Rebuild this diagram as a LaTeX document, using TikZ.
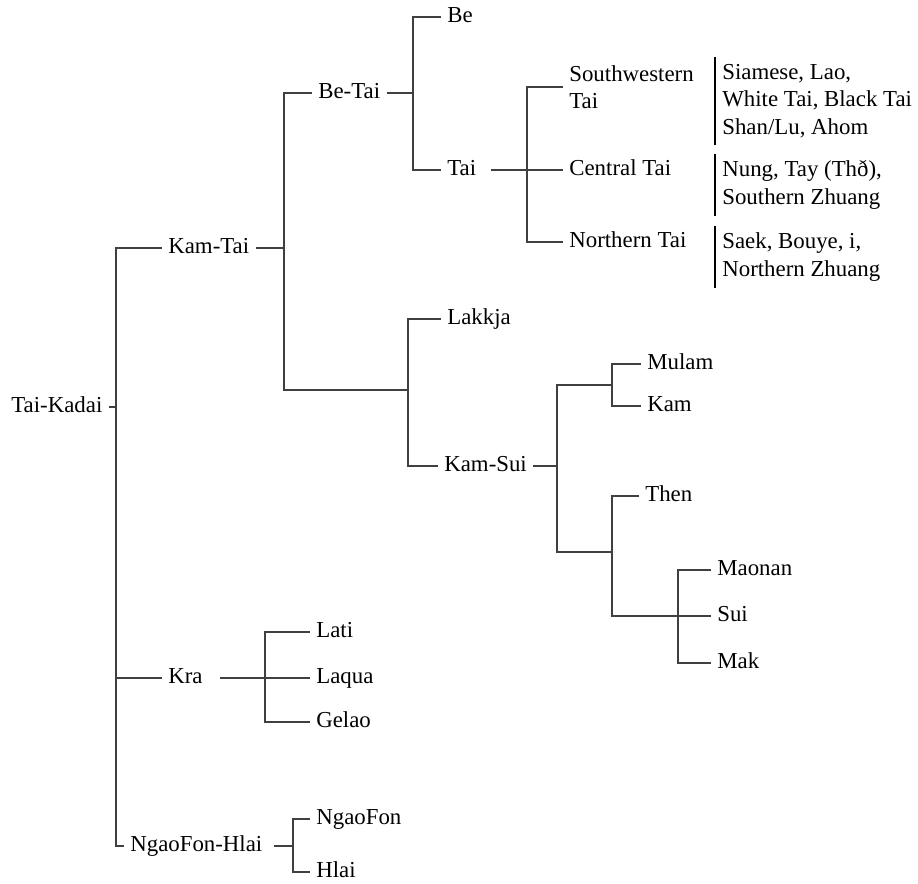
\documentclass[tikz,border=0pt]{standalone}
\usepackage{fontspec}
\setmainfont{Liberation Serif}
\usepackage{tikz}
\usetikzlibrary{positioning}

\begin{document}
\begin{tikzpicture}[x=.02cm,y=-.02cm,font=\fontsize{13pt}{15.5pt}\selectfont,
  lbl/.style={anchor=west,inner xsep=.12cm,inner ysep=0pt,text height=.66em,text depth=0pt},
  lbltwo/.style={anchor=west,align=left,inner xsep=.12cm},
  langs/.style={anchor=west,align=left,inner xsep=.14cm,inner ysep=.14cm},
  edge/.style={draw=black!75,line width=.6pt},
  bar/.style={draw=black,line width=1.2pt}]
\useasboundingbox (0,0) rectangle (918,883);
\node[lbl] (kadai) at (5,407) {Tai-Kadai};
\node[lbl] (kamtai) at (162,248) {Kam-Tai};
\node[lbl] (betai) at (312,93) {Be-Tai};
\node[lbl] (be) at (441,17) {Be};
\node[lbl] (tai) at (441,170) {Tai};
\node[lbltwo] (sw) at (563,87) {Southwestern\\Tai};
\node[lbl] (central) at (563,170) {Central Tai};
\node[lbl] (northern) at (563,242) {Northern Tai};
\node[langs] (swl) at (715,101) {Siamese, Lao,\\White Tai, Black Tai\\Shan/Lu, Ahom};
\node[langs] (cenl) at (715,185) {Nung, Tay (Thð),\\Southern Zhuang};
\node[langs] (norl) at (715,257) {Saek, Bouye, i,\\Northern Zhuang};
\node[lbl] (lakkja) at (441,319) {Lakkja};
\node[lbl] (kamsui) at (438,466) {Kam-Sui};
\node[lbl] (mulam) at (641,364) {Mulam};
\node[lbl] (kam) at (641,406) {Kam};
\node[lbl] (then) at (639,496) {Then};
\node[lbl] (maonan) at (711,570) {Maonan};
\node[lbl] (sui) at (711,616) {Sui};
\node[lbl] (mak) at (711,663) {Mak};
\node[lbl] (kra) at (162,678) {Kra};
\node[lbl] (lati) at (310,632) {Lati};
\node[lbl] (laqua) at (310,678) {Laqua};
\node[lbl] (gelao) at (310,722) {Gelao};
\node[lbl] (nfh) at (124,846) {NgaoFon-Hlai};
\node[lbl] (ngaofon) at (310,819) {NgaoFon};
\node[lbl] (hlai) at (310,872) {Hlai};
\coordinate (j0) at (116,407);
\coordinate (j1) at (284,390);
\coordinate (j2) at (408,390);
\coordinate (j3) at (413,93);
\coordinate (j4) at (527,170);
\coordinate (j5) at (557,466);
\coordinate (j6) at (612,385);
\coordinate (j7) at (612,552);
\coordinate (j8) at (678,616);
\coordinate (j9) at (265,678);
\coordinate (j10) at (293,846);
\draw[edge] (kadai.east) -- (j0);
\draw[edge] (kamtai.west) -| (j0) |- (nfh.west);
\draw[edge] (kra.west) -- (kra.west -| j0);
\draw[edge] (kamtai.east) -- (kamtai.east -| j1);
\draw[edge] (betai.west) -| (j1) -- (j2);
\draw[edge] (lakkja.west) -| (j2) |- (kamsui.west);
\draw[edge] (betai.east) -- (j3);
\draw[edge] (be.west) -| (j3) |- (tai.west);
\draw[edge,shorten <=.16cm] (tai.east) -- (central.west);
\draw[edge] (sw.west) -| (j4) |- (northern.west);
\draw[edge] (kamsui.east) -- (j5);
\draw[edge] (j6) -| (j5) |- (j7);
\draw[edge] (mulam.west) -| (j6) |- (kam.west);
\draw[edge] (then.west) -| (j7) |- (sui.west);
\draw[edge] (maonan.west) -| (j8) |- (mak.west);
\draw[edge,shorten <=.22cm] (kra.east) -- (laqua.west);
\draw[edge] (lati.west) -| (j9) |- (gelao.west);
\draw[edge,shorten <=.1cm] (nfh.east) -- (j10);
\draw[edge] (ngaofon.west) -| (j10) |- (hlai.west);
\draw[bar] (swl.north west) -- (swl.south west);
\draw[bar] (cenl.north west) -- (cenl.south west);
\draw[bar] (norl.north west) -- (norl.south west);
\end{tikzpicture}
\end{document}
